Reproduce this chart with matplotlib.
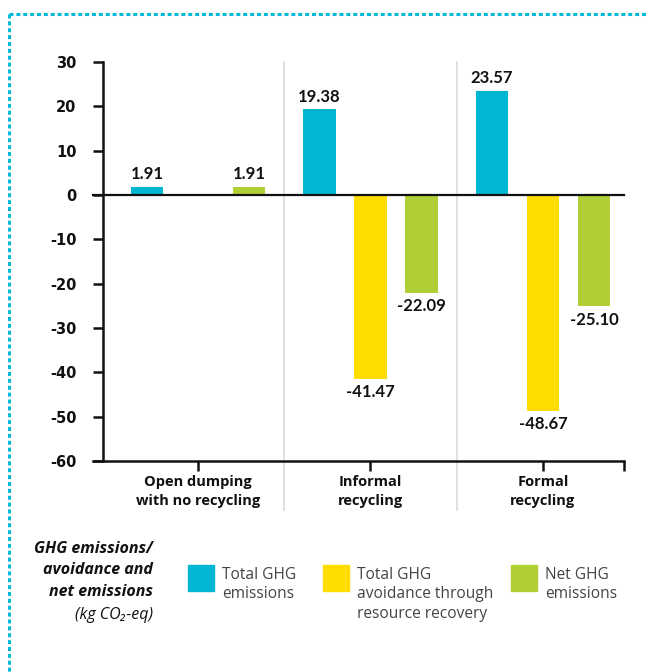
import numpy as np
import matplotlib.pyplot as plt
from matplotlib.lines import Line2D
from matplotlib.patches import Rectangle

# data
categories = ["Open dumping\nwith no recycling", "Informal\nrecycling", "Formal\nrecycling"]
series_names = ["Total GHG\nemissions",
                "Total GHG\navoidance through\nresource recovery",
                "Net GHG\nemissions"]
total_ghg = [1.91, 19.38, 23.57]
avoidance = [np.nan, -41.47, -48.67]
net_ghg = [1.91, -22.09, -25.10]
yticks = [30, 20, 10, 0, -10, -20, -30, -40, -50, -60]

colors = ["#00B6D3", "#FFDD00", "#B0CF35"]
border = "#00B9D6"
num_font = ["Lato", "DejaVu Sans"]
tick_font = ["DejaVu Sans"]
txt_font = ["Open Sans", "DejaVu Sans"]

W, H = 647, 672
fig = plt.figure(figsize=(W / 100, H / 100), dpi=100)
ax = fig.add_axes([103 / W, 1 - 461 / H, (624 - 103) / W, (461 - 62) / H])

x = np.arange(len(categories))
width = 0.19
offset = 0.296
for i, (vals, c) in enumerate(zip([total_ghg, avoidance, net_ghg], colors)):
    xs = x + (i - 1) * offset
    ax.bar(xs, vals, width, color=c, zorder=2)
    for xi, v in zip(xs, vals):
        if np.isnan(v):
            continue
        dy, va = (3, "bottom") if v >= 0 else (-4, "top")
        ax.annotate(f"{v:.2f}", (xi, v), xytext=(0, dy), textcoords="offset points",
                    ha="center", va=va, fontsize=12, fontweight="bold",
                    family=num_font, color="#111111")

ax.set_ylim(-60, 30)
ax.set_xlim(-0.551, 2.47)
ax.set_yticks(yticks)
ax.set_yticklabels([str(t) for t in yticks], fontsize=10.5, fontweight="bold", family=tick_font)
ax.tick_params(axis="y", length=7, width=1.8, pad=12, colors="#111111")

ax.set_xticks(x)
ax.set_xticklabels(categories, fontsize=10.5, fontweight="bold", family=txt_font,
                   linespacing=1.5)
ax.set_xticks([2.47], minor=True)
ax.tick_params(axis="x", which="both", length=7, width=1.8, pad=3, colors="#111111")

for s in ["top", "right", "bottom"]:
    ax.spines[s].set_visible(False)
ax.spines["left"].set_linewidth(1.8)
ax.spines["left"].set_color("#111111")

# bottom axis line and zero line, extended a little to the left
ext = -10 / (624 - 103)
for yv, lw in [(-60, 1.8), (0, 1.6)]:
    ax.add_line(Line2D([ext, 1], [yv, yv], transform=ax.get_yaxis_transform(),
                       color="#111111", lw=lw, clip_on=False, zorder=3))

# light separators between groups
for xs in [0.5, 1.5]:
    ax.axvline(xs, ymin=-49 / 399, ymax=1, color="#DCDCDC", lw=1.2, clip_on=False, zorder=1)

# dotted border (top and left)
dash = (0, (1.3, 0.95))
fig.add_artist(Line2D([9 / W, 1], [1 - 14 / H] * 2, transform=fig.transFigure,
                      color=border, lw=2.2, linestyle=dash, dash_capstyle="butt"))
fig.add_artist(Line2D([9 / W, 9 / W], [1 - 14 / H, 0], transform=fig.transFigure,
                      color=border, lw=2.2, linestyle=dash, dash_capstyle="butt"))

# legend title
fig.text(153 / W, 1 - 541 / H, "GHG emissions/\navoidance and\nnet emissions",
         ha="right", va="top", fontsize=11.5, fontweight="bold", fontstyle="italic",
         family=txt_font, linespacing=1.45, color="#111111")
fig.text(153 / W, 1 - 615 / H, "(kg CO₂-eq)", ha="right", va="center", fontsize=11.5,
         fontstyle="italic", family=txt_font, color="#111111")

# legend entries
patch_x = [188, 323, 511]
for px, c, name in zip(patch_x, colors, series_names):
    fig.add_artist(Rectangle((px / W, 1 - 591 / H), 26 / W, 26 / H,
                             transform=fig.transFigure, color=c))
    fig.text((px + 34) / W, 1 - 567 / H, name, ha="left", va="top", fontsize=11.2,
             family=txt_font, linespacing=1.28, color="#444444")

fig.savefig("out.png", dpi=100)
